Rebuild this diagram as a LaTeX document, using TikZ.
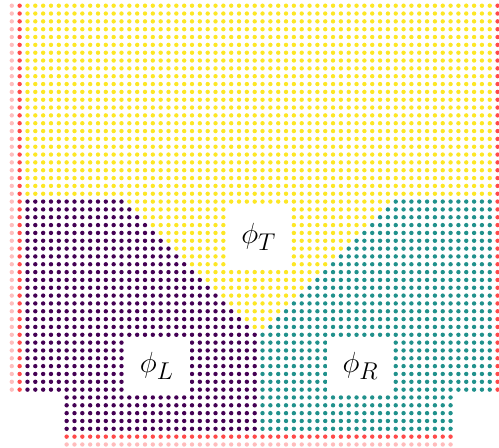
\documentclass[tikz,border=0pt]{standalone}
\usepackage{graphicx}
\definecolor{vyel}{HTML}{FDE725}
\definecolor{vpur}{HTML}{440154}
\definecolor{vtea}{HTML}{21918C}
\definecolor{bred}{HTML}{FF4A4A}
\definecolor{bpink}{HTML}{FFBDBD}
\tikzset{
  lab/.style={fill=white, inner sep=0pt, font=\Huge},
}
\newcommand{\gdot}[3]{\fill[#3] (#1,#2) circle (2.2pt);}
\newcommand{\biglab}[1]{\scalebox{1.17}{$#1$}}
\begin{document}
\begin{tikzpicture}[x=7.835pt, y=-7.835pt]
\useasboundingbox (-1.506,-0.7275) rectangle (62.18,56.45);
% side boundary columns of the wide part
\foreach \r in {0,...,49} {
  \gdot{0}{\r}{bpink}
  \gdot{1}{\r}{bred}
  \gdot{62}{\r}{bred}
}
% top yellow block
\foreach \r in {0,...,24} {
  \foreach \c in {2,...,61} { \gdot{\c}{\r}{vyel} }
}
% yellow wedge
\foreach \r in {25,...,41} {
  \pgfmathtruncatemacro\ya{\r-10}
  \pgfmathtruncatemacro\yb{73-\r}
  \foreach \c in {\ya,...,\yb} { \gdot{\c}{\r}{vyel} }
}
% purple and teal in wide part
\foreach \r in {25,...,49} {
  \pgfmathtruncatemacro\pu{min(\r-11,31)}
  \pgfmathtruncatemacro\tl{max(74-\r,32)}
  \foreach \c in {2,...,\pu} { \gdot{\c}{\r}{vpur} }
  \foreach \c in {\tl,...,61} { \gdot{\c}{\r}{vtea} }
}
% narrow part
\foreach \r in {50,...,54} {
  \foreach \c in {7,...,31} { \gdot{\c}{\r}{vpur} }
  \foreach \c in {32,...,56} { \gdot{\c}{\r}{vtea} }
}
\foreach \c in {7,...,56} {
  \gdot{\c}{55}{bred}
  \gdot{\c}{56}{bpink}
}
% labels
\node[lab, minimum width=65pt, minimum height=64pt] (phiT) at (31.5,29.5) {\biglab{\phi_T}};
\node[lab, minimum width=66pt, minimum height=57pt] (phiL) at (18.5,46) {\biglab{\phi_L}};
\node[lab, minimum width=66pt, minimum height=57pt] (phiR) at (44.5,46) {\biglab{\phi_R}};
\end{tikzpicture}
\end{document}
